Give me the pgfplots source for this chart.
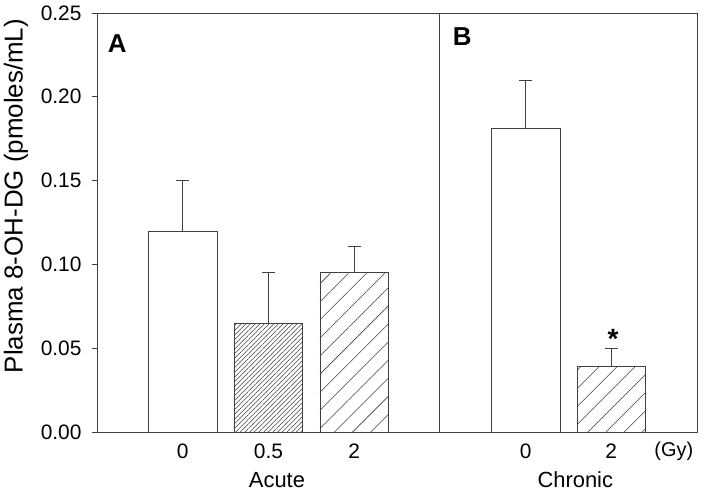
\documentclass[border=0pt]{standalone}
\usepackage{pgfplots}
\pgfplotsset{compat=1.18}
\usepackage{fontspec}
\setmainfont{Liberation Sans}
\usetikzlibrary{patterns.meta}
\definecolor{ln}{HTML}{404040}
\begin{document}
\fontsize{19}{22}\selectfont
\begin{tikzpicture}
\begin{axis}[
  at={(0,0)}, anchor=south west,
  scale only axis, width=600bp, height=419bp,
  xmin=0, xmax=7, ymin=0, ymax=0.25,
  axis line style={draw=ln, line width=0.8bp},
  ytick={0,0.05,0.10,0.15,0.20,0.25},
  y tick label style={xshift=-4bp, /pgf/number format/fixed, /pgf/number format/fixed zerofill, /pgf/number format/precision=2, /pgf/number format/assume math mode=true},
  tick align=outside, major tick length=5bp,
  ytick pos=left,
  tick style={draw=ln, line width=0.8bp},
  xtick={1,2,3,5,6},
  xticklabels={0,0.5,2,0,2},
  x tick style={draw=none},
  x tick label style={yshift=0bp},
  tick label style={font=\fontsize{21}{23}\selectfont},
  clip=false,
  error bars/error bar style={draw=ln, line width=0.8bp},
  error bars/error mark options={draw=ln, line width=0.8bp, mark size=6.5bp, rotate=90},
]
% Acute 0
\addplot[ybar, bar width=0.8, bar shift=0pt, draw=ln, line width=0.7bp, fill=white,
  error bars/.cd, y dir=plus, y explicit]
  coordinates {(1,0.120) +- (0,0.030)};
% Acute 0.5
\addplot[ybar, bar width=0.8, bar shift=0pt, draw=ln, line width=0.7bp,
  pattern={Lines[angle=45,distance=3.3bp,line width=0.55bp]}, pattern color=ln,
  error bars/.cd, y dir=plus, y explicit]
  coordinates {(2,0.065) +- (0,0.030)};
% Acute 2
\addplot[ybar, bar width=0.8, bar shift=0pt, draw=ln, line width=0.7bp,
  pattern={Lines[angle=45,distance=12.8bp,line width=0.55bp]}, pattern color=ln,
  error bars/.cd, y dir=plus, y explicit]
  coordinates {(3,0.095) +- (0,0.016)};
% Chronic 0
\addplot[ybar, bar width=0.8, bar shift=0pt, draw=ln, line width=0.7bp, fill=white,
  error bars/.cd, y dir=plus, y explicit]
  coordinates {(5,0.181) +- (0,0.029)};
% Chronic 2
\addplot[ybar, bar width=0.8, bar shift=0pt, draw=ln, line width=0.7bp,
  pattern={Lines[angle=45,distance=12.8bp,line width=0.55bp]}, pattern color=ln,
  error bars/.cd, y dir=plus, y explicit]
  coordinates {(6,0.039) +- (0,0.011)};
% divider
\draw[ln, line width=0.8bp] (axis cs:4,0) -- (axis cs:4,0.25);
\node[font=\fontsize{26}{30}\selectfont\bfseries] at (axis cs:0.235,0.2317) {A};
\node[font=\fontsize{26}{30}\selectfont\bfseries] at (axis cs:4.26,0.2357) {B};
\node[font=\fontsize{28}{30}\selectfont\bfseries] at (axis cs:6.02,0.0555) {*};
\node[font=\fontsize{20}{22}\selectfont] at (axis cs:6.73,0) [yshift=-19bp] {(Gy)};
\node[font=\fontsize{22}{26}\selectfont] at (axis cs:2.1,0) [yshift=-48bp] {Acute};
\node[font=\fontsize{22}{26}\selectfont] at (axis cs:5.58,0) [yshift=-48bp] {Chronic};
\end{axis}
\node[font=\fontsize{26}{30}\selectfont, rotate=90] at (-81bp,236bp) {Plasma 8-OH-DG (pmoles/mL)};
\pgfresetboundingbox
\path[use as bounding box] (-97bp,-63bp) rectangle (607bp,432bp);
\end{tikzpicture}
\end{document}
